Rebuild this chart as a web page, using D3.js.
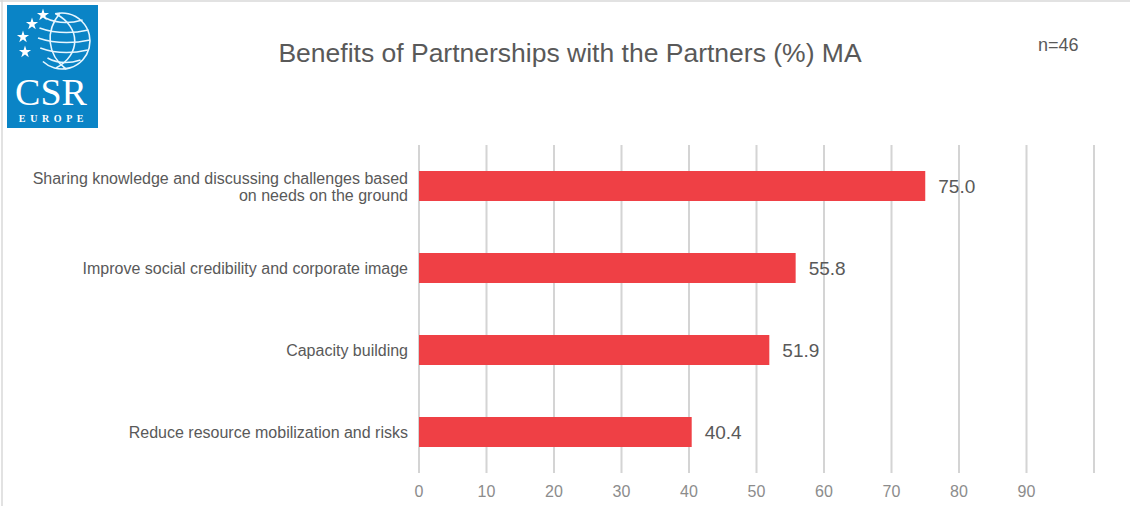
<!DOCTYPE html>
<html>
<head>
<meta charset="utf-8">
<script src="https://cdn.jsdelivr.net/npm/d3@7"></script>
<style>
  body { margin: 0; background: #fff; }
  svg { display: block; }
</style>
</head>
<body>
<svg id="chart" width="1130" height="506"></svg>
<script>
// Survey results: benefits of partnerships (%), n=46
const categories = [
  "Sharing knowledge and discussing challenges based on needs on the ground",
  "Improve social credibility and corporate image",
  "Capacity building",
  "Reduce resource mobilization and risks"
];
const categoryLines = [
  ["Sharing knowledge and discussing challenges based", "on needs on the ground"],
  ["Improve social credibility and corporate image"],
  ["Capacity building"],
  ["Reduce resource mobilization and risks"]
];
const values = [75.0, 55.8, 51.9, 40.4];
const tickLabels = [0, 10, 20, 30, 40, 50, 60, 70, 80, 90];
const gridValues = [0, 10, 20, 30, 40, 50, 60, 70, 80, 90, 100];

const svg = d3.select("#chart");
const W = 1130, H = 506;
const plot = { left: 419, right: 1094, top: 145, bottom: 473 };
const sans = "'Liberation Sans', Arial, sans-serif";

const x = d3.scaleLinear().domain([0, 100]).range([plot.left, plot.right]);
const y = d3.scalePoint().domain(categories).range([plot.top, plot.bottom]).padding(0.5);

// frame lines
svg.append("line").attr("x1", 0).attr("x2", W).attr("y1", 1).attr("y2", 1)
  .attr("stroke", "#d9d9d9").attr("stroke-width", 1.5);
svg.append("line").attr("x1", 2).attr("x2", 2).attr("y1", 0).attr("y2", H)
  .attr("stroke", "#d9d9d9").attr("stroke-width", 1.5);

// logo
const logo = svg.append("g").attr("transform", "translate(7,5)");
logo.append("rect").attr("width", 91).attr("height", 123).attr("fill", "#0a84c6");
const globe = logo.append("g").attr("fill", "none").attr("stroke", "#e6f6ff").attr("stroke-width", 1.6);
const gc = { x: 55, y: 36, r: 28 };
// outer rim, open towards the stars
const rimArc = d3.arc().innerRadius(gc.r).outerRadius(gc.r).startAngle(-0.25).endAngle(Math.PI + 0.75);
globe.append("path").attr("transform", `translate(${gc.x},${gc.y})`).attr("d", rimArc());
// meridians
globe.append("path").attr("d", `M${gc.x - 6},${gc.y - 27} C${gc.x + 19},${gc.y - 14} ${gc.x + 19},${gc.y + 14} ${gc.x - 6},${gc.y + 27}`);
globe.append("path").attr("d", `M${gc.x - 2},${gc.y - 28} C${gc.x - 17},${gc.y - 10} ${gc.x - 15},${gc.y + 14} ${gc.x + 4},${gc.y + 28}`);
// parallels
[-19, -9, 1, 11, 21].forEach(dy => {
  const half = Math.sqrt(gc.r * gc.r - dy * dy);
  globe.append("path").attr("d",
    `M${gc.x - half + 4},${gc.y + dy - 4} Q${gc.x},${gc.y + dy + 4} ${gc.x + half},${gc.y + dy - 2}`);
});
// stars
const star = d3.symbol().type(d3.symbolStar).size(46);
[[36, 10], [25, 19], [16, 32], [18, 47]].forEach(([sx, sy]) => {
  logo.append("path").attr("d", star()).attr("transform", `translate(${sx},${sy})`).attr("fill", "#ffffff");
});
logo.append("text").attr("x", 44).attr("y", 100).attr("text-anchor", "middle")
  .attr("font-family", "'Liberation Serif', 'DejaVu Serif', serif").attr("font-size", 38)
  .attr("fill", "#ffffff").text("CSR");
logo.append("text").attr("x", 46.5).attr("y", 117).attr("text-anchor", "middle")
  .attr("font-family", "'Liberation Serif', 'DejaVu Serif', serif").attr("font-size", 10)
  .attr("font-weight", "bold").attr("letter-spacing", 4.6)
  .attr("fill", "#ffffff").text("EUROPE");

// title and sample size
svg.append("text").attr("x", 570).attr("y", 62).attr("text-anchor", "middle")
  .attr("font-family", sans).attr("font-size", 26.5)
  .attr("fill", "#595959").text("Benefits of Partnerships with the Partners (%) MA");
svg.append("text").attr("x", 1038).attr("y", 51)
  .attr("font-family", sans).attr("font-size", 18)
  .attr("fill", "#595959").text("n=46");

// vertical gridlines
svg.append("g").selectAll("line").data(gridValues).join("line")
  .attr("x1", d => x(d)).attr("x2", d => x(d))
  .attr("y1", plot.top).attr("y2", plot.bottom)
  .attr("stroke", "#d4d4d4").attr("stroke-width", 2);

// x tick labels
svg.append("g").selectAll("text").data(tickLabels).join("text")
  .attr("x", d => x(d)).attr("y", 497).attr("text-anchor", "middle")
  .attr("font-family", "'Liberation Sans Narrow', 'Liberation Sans', Arial, sans-serif")
  .attr("font-size", 16).attr("fill", "#8c8c8c").text(d => d);

// bars
const barH = 30;
svg.append("g").selectAll("rect").data(values).join("rect")
  .attr("x", x(0)).attr("y", (d, i) => y(categories[i]) - barH / 2)
  .attr("width", d => x(d) - x(0)).attr("height", barH)
  .attr("fill", "#ef4045");

// value labels
svg.append("g").selectAll("text").data(values).join("text")
  .attr("x", d => x(d) + 13).attr("y", (d, i) => y(categories[i]) + 7)
  .attr("font-family", sans).attr("font-size", 19)
  .attr("fill", "#595959").text(d => d.toFixed(1));

// category labels
const catG = svg.append("g");
categoryLines.forEach((lines, i) => {
  const cy = y(categories[i]);
  const lh = 17;
  const t = catG.append("text").attr("text-anchor", "end")
    .attr("font-family", sans).attr("font-size", 16)
    .attr("fill", "#595959");
  lines.forEach((ln, j) => {
    t.append("tspan").attr("x", 408)
      .attr("y", cy + 6 + (j - (lines.length - 1) / 2) * lh).text(ln);
  });
});
</script>
</body>
</html>
